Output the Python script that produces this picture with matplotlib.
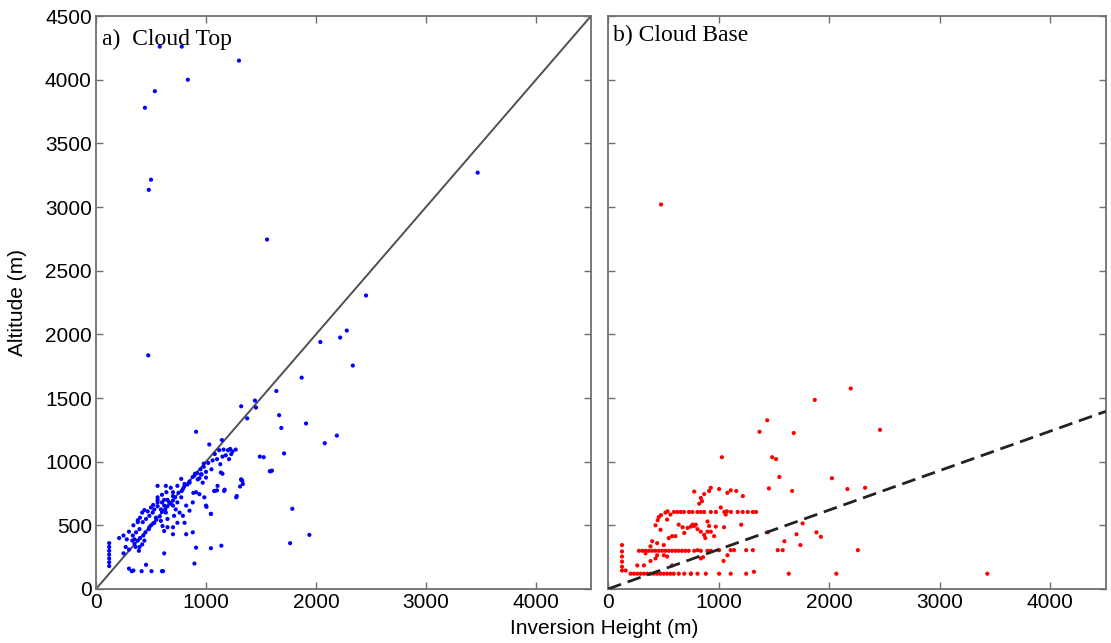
import numpy as np
import matplotlib
matplotlib.use('Agg')
from matplotlib import pyplot as plt

# a) cloud top vs inversion height
top_x = [580, 780, 445, 535, 835, 1300, 500, 480, 1555, 475, 3470, 2455,
         2280, 2220, 2335, 2190, 2040, 1870, 1640, 1320, 1445, 1455, 1375, 1665,
         1685, 1910, 2080, 1710, 1785, 1765, 1940,
         910, 1030, 1145, 1490, 1525, 1580, 1600, 1320, 1330,
         1120, 1160, 1200, 1220, 1240, 1270, 1230, 1180, 1100, 1210,
         1100, 1170, 1310, 1280, 1080, 1045, 1005,
         1140, 1045, 910, 895, 620, 600, 505, 415, 340, 300, 325,
         120, 120, 120, 120, 120, 120, 120,
         210, 280, 455, 610,
         560, 635, 680, 740, 775, 805, 850, 895, 925, 955, 970, 1000, 1135, 1150,
         1320, 1335, 1590, 1105, 1165, 1075, 985, 940, 880, 885, 1000, 1045, 1275,
         790, 775, 740, 700, 665, 620, 590, 560, 530, 515, 545, 485, 455, 425, 380,
         395, 365, 335, 350, 380, 395, 440, 605, 650, 700, 620, 700, 740, 805, 820,
         880, 790, 710, 650, 590, 530, 485, 635, 560, 700, 725, 760, 820, 850, 910,
         980, 1020, 1060, 1080, 1000, 960, 940, 1050, 1130, 1150,
         300, 350, 400, 430, 450, 480, 500, 520, 550, 580, 600, 630, 650, 680, 700,
         720, 750, 780, 800, 830, 850, 880, 900, 920, 950, 980,
         250, 270, 330, 360, 390, 420, 250, 300, 340, 380, 400, 420, 440, 470, 500,
         520, 560, 600, 640, 650, 700, 560, 600, 620]
top_y = [4260, 4260, 3780, 3910, 4000, 4150, 3215, 3135, 2745, 1835, 3270, 2305,
         2030, 1975, 1755, 1205, 1940, 1660, 1555, 1435, 1480, 1425, 1340, 1365,
         1265, 1300, 1145, 1065, 630, 360, 425,
         1235, 1135, 1170, 1040, 1035, 925, 930, 860, 850,
         1090, 1095, 1090, 1100, 1080, 1095, 1060, 1050, 1020, 1020,
         775, 780, 805, 730, 770, 590, 645,
         340, 320, 325, 200, 280, 140, 140, 140, 145, 160, 140,
         180, 210, 240, 270, 300, 330, 360,
         400, 390, 190, 140,
         810, 810, 795, 810, 865, 825, 835, 890, 860, 900, 835, 875, 915, 905,
         860, 825, 925, 810, 770, 770, 720, 745, 680, 755, 655, 590, 720,
         785, 720, 680, 655, 680, 655, 625, 680, 625, 600, 560, 575, 550, 525, 525,
         470, 445, 420, 390, 380, 330, 380, 495, 485, 485, 455, 430, 520, 520, 430,
         445, 575, 575, 550, 535, 520, 485, 600, 720, 730, 625, 600, 655, 615, 760,
         960, 990, 1010, 1060, 920, 900, 870, 940, 980, 1040,
         310, 355, 400, 420, 445, 470, 500, 515, 545, 570, 605, 625, 650, 670, 695,
         720, 755, 770, 800, 820, 845, 880, 905, 910, 940, 985,
         280, 330, 380, 330, 300, 350, 420, 450, 500, 540, 560, 600, 620, 610, 640,
         660, 700, 740, 760, 700, 760, 650, 680, 700]

# b) cloud base vs inversion height
base_x = [480, 3430,
          2195, 1870, 1440, 1370, 1680, 2460, 1030, 1485, 1520, 1550, 2025, 2165,
          2325, 1455, 1665, 1760, 1705, 1885, 1925, 1595, 1740, 2260, 1445, 1535,
          1580, 2065, 1635, 1320, 1250, 1110, 1005, 1045, 1080, 885, 810, 750,
          1250, 1310, 1140, 1110, 1005, 930, 900, 840, 810, 780,
          280, 310, 340, 370, 400, 430, 460, 490, 520, 550, 580, 610, 640, 670, 700, 730,
          840, 860, 880, 900,
          597, 627, 658, 688, 733, 764, 809, 839, 870, 930, 976, 1052, 1112, 1173,
          1218, 1264, 1309, 1339,
          1220, 1160, 1110, 1080, 1005, 930, 915, 870, 840, 825, 780, 850,
          460, 475, 535, 565, 550, 580, 610, 640, 675, 690, 720, 750, 765, 780, 795,
          810, 840, 870, 900, 915, 930, 975, 960, 1020, 1065, 1050, 1075, 1205,
          430, 450, 480, 520, 540,
          205, 235, 265, 295, 325, 355, 385, 415, 445, 475, 505, 535, 565, 595, 640,
          690, 750,
          127, 127, 127, 127, 127, 127,
          160, 265, 325, 385, 430, 445, 385, 400, 445, 340, 505, 580, 535, 505]
base_y = [3020, 120,
          1575, 1485, 1325, 1235, 1225, 1250, 1035, 1035, 1020, 880, 870, 785,
          795, 790, 770, 515, 430, 445, 410, 375, 345, 305, 445, 305,
          305, 120, 120, 135, 120, 120, 120, 220, 265, 120, 120, 120,
          305, 305, 305, 305, 305, 300, 300, 300, 305, 300,
          300, 300, 300, 300, 300, 300, 300, 300, 300, 300, 300, 300, 300, 300, 300, 300,
          240, 250, 400, 450,
          605, 605, 605, 605, 605, 605, 605, 605, 605, 605, 605, 605, 605, 605,
          605, 605, 605, 605,
          730, 770, 775, 755, 785, 795, 770, 745, 715, 670, 765, 690,
          565, 465, 545, 585, 400, 415, 415, 505, 485, 440, 480, 490, 505, 495, 505,
          470, 450, 425, 530, 495, 450, 490, 415, 640, 585, 485, 610, 505,
          500, 540, 580, 600, 610,
          120, 120, 120, 120, 120, 120, 120, 120, 120, 120, 120, 120, 120, 120, 120,
          120, 120,
          345, 295, 255, 215, 175, 145,
          145, 185, 185, 220, 240, 265, 335, 375, 360, 280, 265, 185, 255, 345]

# fitted line in b)
fit_slope = 0.31

x_ticks = [0, 1000, 2000, 3000, 4000]
y_ticks = [0, 500, 1000, 1500, 2000, 2500, 3000, 3500, 4000, 4500]

plt.rcParams['font.family'] = ['Liberation Sans', 'DejaVu Sans']

fig = plt.figure(figsize=(11.11, 6.43), dpi=100)
ax1 = fig.add_axes((0.0864, 0.084, 0.4455, 0.891))
ax2 = fig.add_axes((0.5472, 0.084, 0.4480, 0.891))

spine_col = '#707070'
for ax in (ax1, ax2):
    ax.set_xlim(0, 4500)
    ax.set_ylim(0, 4500)
    ax.set_xticks(x_ticks)
    ax.set_yticks(y_ticks)
    ax.tick_params(direction='in', length=5, width=1, color=spine_col,
                   top=True, right=True, labelsize=15, pad=3)
    for s in ax.spines.values():
        s.set_color(spine_col)
        s.set_linewidth(1.3)

ax2.set_yticklabels([])

ax1.plot([0, 4500], [0, 4500], color='#505050', lw=1.4, zorder=1)
ax1.scatter(top_x, top_y, s=9, color='#0000ff', edgecolors='none', zorder=2)
ax1.text(0.013, 0.978, 'a)  Cloud Top', transform=ax1.transAxes, ha='left', va='top',
         fontsize=17, family='Liberation Serif')

fx = np.array([0, 4500])
ax2.plot(fx, fit_slope * fx, color='#222222', lw=2, ls=(0, (5, 2.5)), zorder=3)
ax2.scatter(base_x, base_y, s=9, color='#ff0000', edgecolors='none', zorder=2)
ax2.text(0.01, 0.985, 'b) Cloud Base', transform=ax2.transAxes, ha='left', va='top',
         fontsize=17, family='Liberation Serif')

fig.text(0.016, 0.53, 'Altitude (m)', rotation=90, ha='center', va='center', fontsize=15)
fig.text(0.5436, 0.023, 'Inversion Height (m)', ha='center', va='center', fontsize=15)

fig.savefig('out.png', dpi=100, facecolor='white')
